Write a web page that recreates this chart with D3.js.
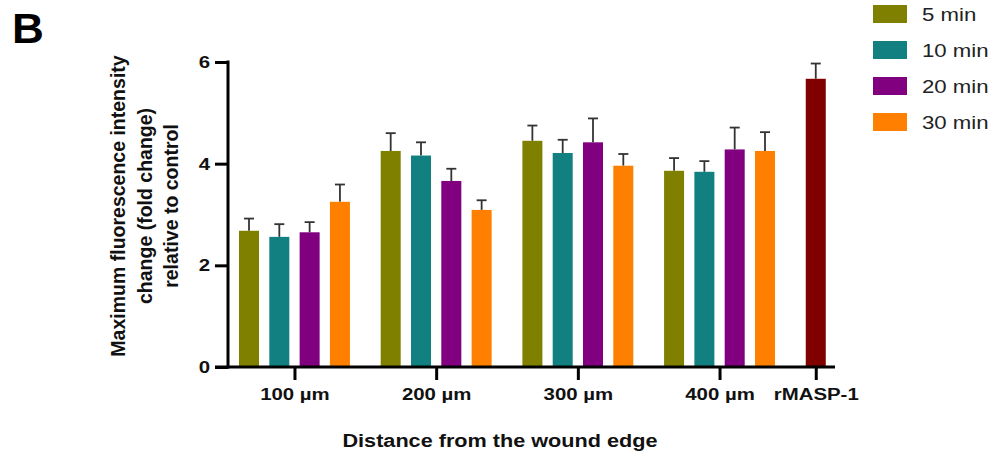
<!DOCTYPE html>
<html>
<head>
<meta charset="utf-8">
<script src="https://cdn.jsdelivr.net/npm/d3@7"></script>
<style>
  body { margin: 0; background: #fff; }
  svg { display: block; font-family: "Liberation Sans", Arial, sans-serif; }
</style>
</head>
<body>
<svg id="chart" width="991" height="452"></svg>
<script>
// data
var distances = ["100 µm", "200 µm", "300 µm", "400 µm"];
var times = ["5 min", "10 min", "20 min", "30 min"];
var timeColors = ["#808000", "#128080", "#800080", "#ff8000"];

var mean5 = [2.68, 4.25, 4.45, 3.86];
var mean10 = [2.56, 4.16, 4.21, 3.84];
var mean20 = [2.65, 3.66, 4.42, 4.28];
var mean30 = [3.25, 3.09, 3.96, 4.25];
var err5 = [0.24, 0.35, 0.30, 0.25];
var err10 = [0.25, 0.26, 0.26, 0.21];
var err20 = [0.20, 0.24, 0.47, 0.43];
var err30 = [0.34, 0.19, 0.23, 0.37];

var controlLabel = "rMASP-1";
var controlMean = 5.67;
var controlErr = 0.30;
var controlColor = "#800000";

var yTicks = [0, 2, 4, 6];

var svg = d3.select("#chart");
var means = [mean5, mean10, mean20, mean30];
var errs = [err5, err10, err20, err30];

// the original figure is a bit stretched sideways, text too
var stretch = 1.2;

// layout
var axisX = 228, axisY = 367, topY = 62, axisEnd = 835;
var categories = distances.concat([controlLabel]);

var y = d3.scaleLinear().domain([0, 6]).range([axisY, topY]);

var x0 = d3.scaleBand()
  .domain(categories)
  .range([239, 239 + 5 * 141.7 - 30.8])
  .paddingInner(0.217)
  .paddingOuter(0);

var x1 = d3.scaleBand()
  .domain(times)
  .range([0, x0.bandwidth()])
  .paddingInner(0.34)
  .paddingOuter(0);

// flatten the bars
var bars = [];
for (var i = 0; i < distances.length; i++) {
  for (var j = 0; j < times.length; j++) {
    bars.push({
      x: x0(distances[i]) + x1(times[j]),
      mean: means[j][i],
      err: errs[j][i],
      color: timeColors[j]
    });
  }
}
bars.push({ x: x0(controlLabel), mean: controlMean, err: controlErr, color: controlColor });

var bw = x1.bandwidth();

// error bars first (behind)
var eb = svg.append("g").selectAll("g")
  .data(bars)
  .enter()
  .append("g");
eb.append("line")
  .attr("x1", d => d.x + bw / 2)
  .attr("x2", d => d.x + bw / 2)
  .attr("y1", d => y(d.mean))
  .attr("y2", d => y(d.mean + d.err))
  .attr("stroke", "#333")
  .attr("stroke-width", 1.8);
eb.append("line")
  .attr("x1", d => d.x + bw / 2 - 5)
  .attr("x2", d => d.x + bw / 2 + 5)
  .attr("y1", d => y(d.mean + d.err))
  .attr("y2", d => y(d.mean + d.err))
  .attr("stroke", "#333")
  .attr("stroke-width", 1.8);

svg.append("g").selectAll("rect")
  .data(bars)
  .enter()
  .append("rect")
  .attr("x", d => d.x)
  .attr("y", d => y(d.mean))
  .attr("width", bw)
  .attr("height", d => y(0) - y(d.mean))
  .attr("fill", d => d.color);

// y axis
var yAxis = svg.append("g")
  .attr("transform", "translate(" + axisX + ",0)")
  .call(d3.axisLeft(y).tickValues(yTicks).tickSize(13).tickPadding(5).tickFormat(d3.format("d")));
yAxis.select(".domain").remove();
yAxis.selectAll(".tick line").attr("stroke", "#000").attr("stroke-width", 3);
yAxis.selectAll(".tick text")
  .attr("fill", "#111")
  .style("font-size", "17px")
  .style("font-weight", "bold")
  .attr("transform", "translate(-18,0) scale(" + stretch + ",1) translate(18,0)");

svg.append("line")
  .attr("x1", axisX).attr("x2", axisX)
  .attr("y1", topY - 1.5).attr("y2", axisY + 1.5)
  .attr("stroke", "#000").attr("stroke-width", 3);

// x axis, ticks at the centre of each group's bars
var tickPos = d3.scaleOrdinal()
  .domain(categories)
  .range(categories.map(c => c === controlLabel ? x0(c) + bw / 2 : x0(c) + x0.bandwidth() / 2));

var xAxis = svg.append("g")
  .attr("transform", "translate(0," + axisY + ")")
  .call(d3.axisBottom(tickPos).tickSize(13).tickPadding(8));
xAxis.select(".domain").remove();
xAxis.selectAll(".tick line").attr("stroke", "#000").attr("stroke-width", 3);
xAxis.selectAll(".tick text")
  .attr("fill", "#111")
  .style("font-size", "17px")
  .style("font-weight", "bold")
  .attr("transform", "scale(" + stretch + ",1)");

svg.append("line")
  .attr("x1", axisX - 13).attr("x2", axisEnd)
  .attr("y1", axisY).attr("y2", axisY)
  .attr("stroke", "#000").attr("stroke-width", 3);

// axis titles
svg.append("text")
  .attr("transform", "translate(500,447) scale(1.14,1)")
  .attr("text-anchor", "middle")
  .style("font-size", "19px")
  .style("font-weight", "bold")
  .attr("fill", "#111")
  .text("Distance from the wound edge");

var yTitle = ["Maximum fluorescence intensity", "change (fold change)", "relative to control"];
svg.append("g")
  .attr("transform", "translate(125,206) rotate(-90)")
  .selectAll("text")
  .data(yTitle)
  .enter()
  .append("text")
  .attr("x", 0)
  .attr("y", (d, i) => i * 26.7)
  .attr("text-anchor", "middle")
  .style("font-size", "19.5px")
  .style("font-weight", "bold")
  .attr("fill", "#111")
  .text(d => d);

// panel letter
svg.append("text")
  .attr("transform", "translate(12,43) scale(1.05,1)")
  .style("font-size", "42px")
  .style("font-weight", "bold")
  .attr("fill", "#000")
  .text("B");

// legend
var legend = svg.append("g").selectAll("g")
  .data(times)
  .enter()
  .append("g")
  .attr("transform", (d, i) => "translate(873," + (5 + i * 36) + ")");
legend.append("rect")
  .attr("width", 34)
  .attr("height", 18)
  .attr("fill", (d, i) => timeColors[i]);
legend.append("text")
  .attr("transform", "translate(49,16) scale(" + stretch + ",1)")
  .style("font-size", "18.5px")
  .attr("fill", "#222")
  .text(d => d);
</script>
</body>
</html>
